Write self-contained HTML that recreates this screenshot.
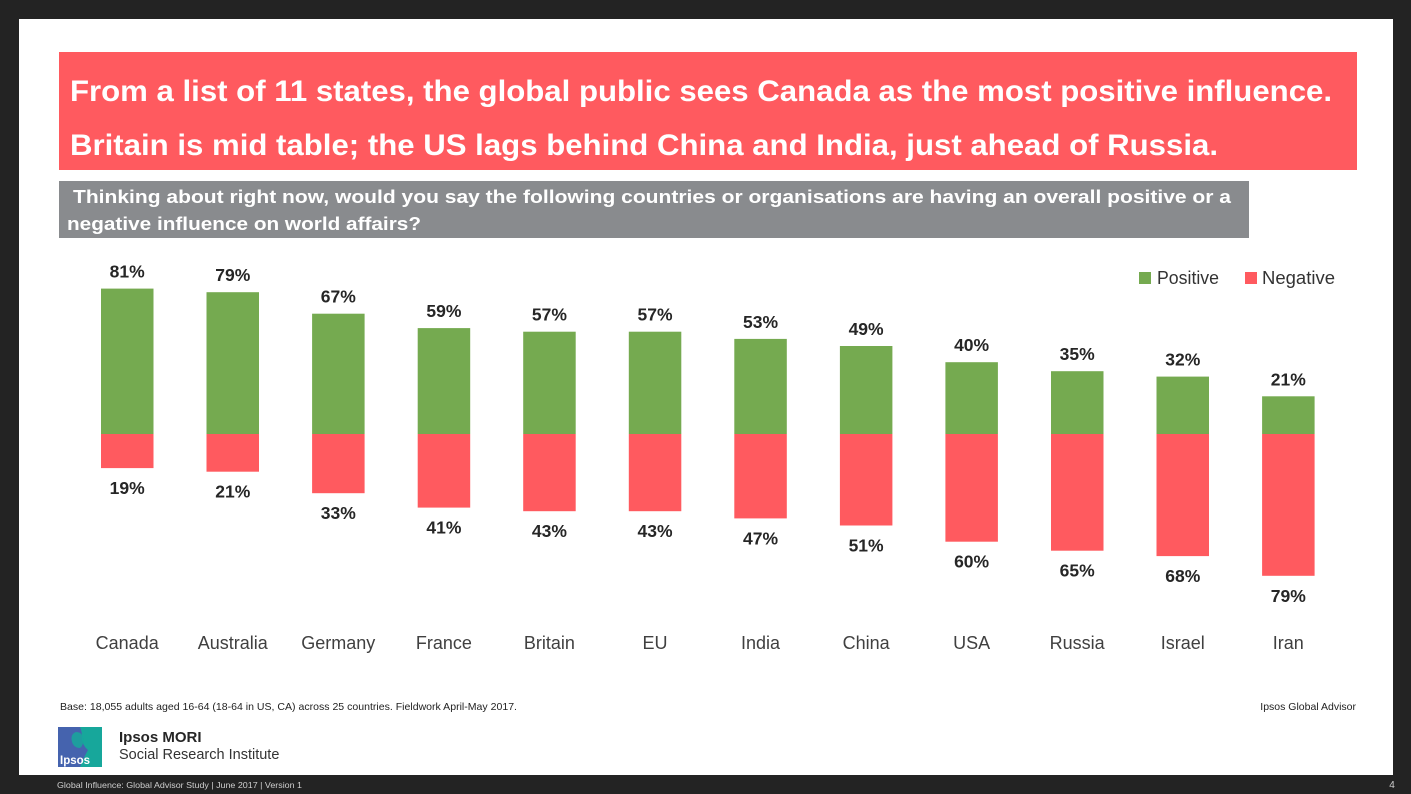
<!DOCTYPE html>
<html>
<head>
<meta charset="utf-8">
<style>
html,body{margin:0;padding:0;background:#232323;}
svg{display:block;}
text{font-family:"Liberation Sans",sans-serif;}
</style>
</head>
<body>
<svg width="1411" height="794" viewBox="0 0 1411 794" xmlns="http://www.w3.org/2000/svg">
<rect x="0" y="0" width="1411" height="794" fill="#232323"/>
<rect x="19" y="19" width="1374" height="756" fill="#ffffff"/>

<!-- Title -->
<rect x="59" y="52" width="1298" height="118" fill="#FF5A5F"/>
<text x="70" y="101" font-size="30" font-weight="bold" fill="#ffffff" textLength="1262" lengthAdjust="spacingAndGlyphs">From a list of 11 states, the global public sees Canada as the most positive influence.</text>
<text x="70" y="155" font-size="30" font-weight="bold" fill="#ffffff" textLength="1148" lengthAdjust="spacingAndGlyphs">Britain is mid table; the US lags behind China and India, just ahead of Russia.</text>

<!-- Subtitle -->
<rect x="59" y="181" width="1190" height="57" fill="#898B8E"/>
<text x="73" y="203" font-size="18.5" font-weight="bold" fill="#ffffff" textLength="1158" lengthAdjust="spacingAndGlyphs">Thinking about right now, would you say the following countries or organisations are having an overall positive or a</text>
<text x="67" y="230" font-size="18.5" font-weight="bold" fill="#ffffff" textLength="354" lengthAdjust="spacingAndGlyphs">negative influence on world affairs?</text>

<!-- Legend -->
<rect x="1139" y="272" width="12" height="12" fill="#75AA50"/>
<text x="1157" y="284" font-size="18" fill="#333333" textLength="62" lengthAdjust="spacingAndGlyphs">Positive</text>
<rect x="1245" y="272" width="12" height="12" fill="#FF5A5F"/>
<text x="1262" y="284" font-size="18" fill="#333333" textLength="73" lengthAdjust="spacingAndGlyphs">Negative</text>

<!-- Bars -->
<g id="bars">
<rect x="101.0" y="288.6" width="52.5" height="145.4" fill="#75AA50"/>
<rect x="101.0" y="434" width="52.5" height="34.1" fill="#FF5A5F"/>
<rect x="206.5" y="292.2" width="52.5" height="141.8" fill="#75AA50"/>
<rect x="206.5" y="434" width="52.5" height="37.7" fill="#FF5A5F"/>
<rect x="312.1" y="313.7" width="52.5" height="120.3" fill="#75AA50"/>
<rect x="312.1" y="434" width="52.5" height="59.2" fill="#FF5A5F"/>
<rect x="417.7" y="328.1" width="52.5" height="105.9" fill="#75AA50"/>
<rect x="417.7" y="434" width="52.5" height="73.6" fill="#FF5A5F"/>
<rect x="523.2" y="331.7" width="52.5" height="102.3" fill="#75AA50"/>
<rect x="523.2" y="434" width="52.5" height="77.2" fill="#FF5A5F"/>
<rect x="628.8" y="331.7" width="52.5" height="102.3" fill="#75AA50"/>
<rect x="628.8" y="434" width="52.5" height="77.2" fill="#FF5A5F"/>
<rect x="734.3" y="338.9" width="52.5" height="95.1" fill="#75AA50"/>
<rect x="734.3" y="434" width="52.5" height="84.4" fill="#FF5A5F"/>
<rect x="839.9" y="346.0" width="52.5" height="88.0" fill="#75AA50"/>
<rect x="839.9" y="434" width="52.5" height="91.5" fill="#FF5A5F"/>
<rect x="945.4" y="362.2" width="52.5" height="71.8" fill="#75AA50"/>
<rect x="945.4" y="434" width="52.5" height="107.7" fill="#FF5A5F"/>
<rect x="1051.0" y="371.2" width="52.5" height="62.8" fill="#75AA50"/>
<rect x="1051.0" y="434" width="52.5" height="116.7" fill="#FF5A5F"/>
<rect x="1156.5" y="376.6" width="52.5" height="57.4" fill="#75AA50"/>
<rect x="1156.5" y="434" width="52.5" height="122.1" fill="#FF5A5F"/>
<rect x="1262.1" y="396.3" width="52.5" height="37.7" fill="#75AA50"/>
<rect x="1262.1" y="434" width="52.5" height="141.8" fill="#FF5A5F"/>
</g>

<!-- Value labels -->
<g font-size="17.5" font-weight="bold" fill="#262626" text-anchor="middle">
<text x="127.2" y="277.6">81%</text>
<text x="127.2" y="494.1">19%</text>
<text x="232.8" y="281.2">79%</text>
<text x="232.8" y="497.7">21%</text>
<text x="338.3" y="302.7">67%</text>
<text x="338.3" y="519.2">33%</text>
<text x="443.9" y="317.1">59%</text>
<text x="443.9" y="533.6">41%</text>
<text x="549.4" y="320.7">57%</text>
<text x="549.4" y="537.2">43%</text>
<text x="655.0" y="320.7">57%</text>
<text x="655.0" y="537.2">43%</text>
<text x="760.5" y="327.9">53%</text>
<text x="760.5" y="544.4">47%</text>
<text x="866.1" y="335.0">49%</text>
<text x="866.1" y="551.5">51%</text>
<text x="971.6" y="351.2">40%</text>
<text x="971.6" y="567.7">60%</text>
<text x="1077.2" y="360.2">35%</text>
<text x="1077.2" y="576.7">65%</text>
<text x="1182.8" y="365.6">32%</text>
<text x="1182.8" y="582.1">68%</text>
<text x="1288.3" y="385.3">21%</text>
<text x="1288.3" y="601.8">79%</text>
</g>

<!-- Category labels -->
<g font-size="18" fill="#404040" text-anchor="middle">
<text x="127.2" y="649">Canada</text>
<text x="232.8" y="649">Australia</text>
<text x="338.3" y="649">Germany</text>
<text x="443.9" y="649">France</text>
<text x="549.4" y="649">Britain</text>
<text x="655.0" y="649">EU</text>
<text x="760.5" y="649">India</text>
<text x="866.1" y="649">China</text>
<text x="971.6" y="649">USA</text>
<text x="1077.2" y="649">Russia</text>
<text x="1182.8" y="649">Israel</text>
<text x="1288.3" y="649">Iran</text>
</g>

<!-- Base note -->
<text x="60" y="710" font-size="10.5" fill="#222222" textLength="457" lengthAdjust="spacingAndGlyphs">Base: 18,055 adults aged 16-64 (18-64 in US, CA) across 25 countries. Fieldwork April-May 2017.</text>
<text x="1356" y="710" font-size="10.5" fill="#222222" text-anchor="end">Ipsos Global Advisor</text>

<!-- Logo -->
<rect x="58" y="727" width="44" height="40" fill="#4563AE"/>
<path d="M80 727 L102 727 L102 767 L80 767 Q84 757 88 750 Q82 745 82 738 Q82 731 80 727 Z" fill="#17A79B"/>
<path d="M76 732 Q70 734 72 742 Q74 748 80 748 Q84 745 83 738 Q82 732 76 732 Z" fill="#17A79B" opacity="0.85"/>
<text x="60" y="764" font-size="11.5" font-weight="bold" fill="#ffffff">Ipsos</text>
<text x="119" y="742" font-size="15" font-weight="bold" fill="#262626">Ipsos MORI</text>
<text x="119" y="759" font-size="14.5" fill="#333333">Social Research Institute</text>

<!-- Footer -->
<text x="57" y="788" font-size="8.5" fill="#cfcfcf" textLength="245" lengthAdjust="spacingAndGlyphs">Global Influence: Global Advisor Study  |  June 2017 |  Version 1</text>
<text x="1392" y="788" font-size="10" fill="#cfcfcf" text-anchor="middle">4</text>
</svg>
</body>
</html>
